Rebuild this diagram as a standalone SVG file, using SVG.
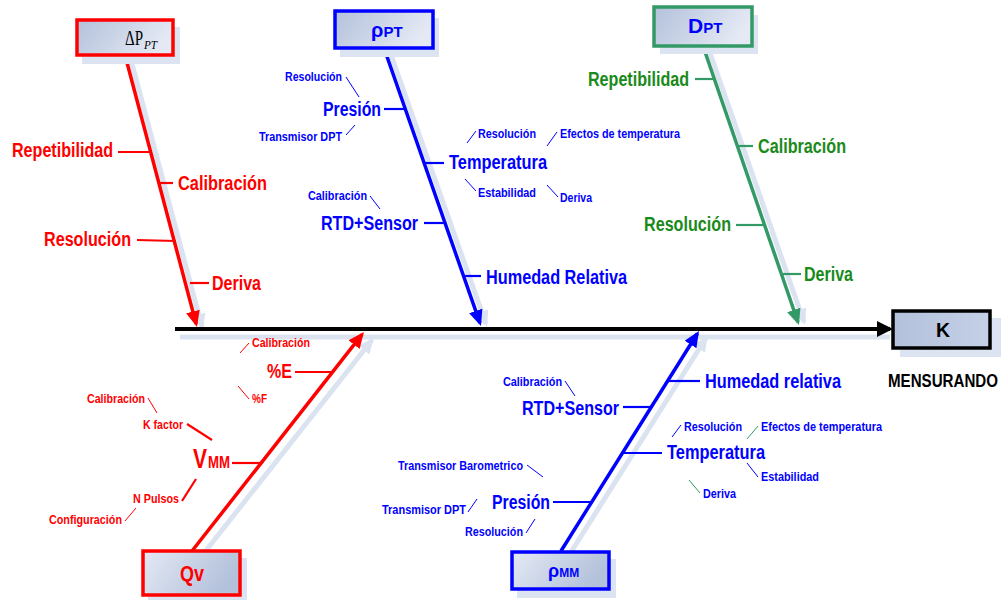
<svg xmlns="http://www.w3.org/2000/svg" width="1007" height="601" viewBox="0 0 1007 601">
<defs>
<linearGradient id="gTop" x1="0" y1="0" x2="1" y2="0.3"><stop offset="0" stop-color="#b3c1db"/><stop offset="1" stop-color="#e4e9f4"/></linearGradient>
<linearGradient id="gBot" x1="0" y1="0" x2="1" y2="0.3"><stop offset="0" stop-color="#e4e9f4"/><stop offset="1" stop-color="#b3c1db"/></linearGradient>
<linearGradient id="gK" x1="0" y1="0" x2="1" y2="0"><stop offset="0" stop-color="#b3c1db"/><stop offset="1" stop-color="#c4d0e6"/></linearGradient>
<marker id="aR" viewBox="0 0 16 14" refX="13" refY="7" markerWidth="16" markerHeight="14" markerUnits="userSpaceOnUse" orient="auto"><path d="M0,0 L16,7 L0,14 z" fill="#ff0000"/></marker>
<marker id="aB" viewBox="0 0 16 14" refX="13" refY="7" markerWidth="16" markerHeight="14" markerUnits="userSpaceOnUse" orient="auto"><path d="M0,0 L16,7 L0,14 z" fill="#0000ff"/></marker>
<marker id="aG" viewBox="0 0 16 14" refX="13" refY="7" markerWidth="16" markerHeight="14" markerUnits="userSpaceOnUse" orient="auto"><path d="M0,0 L16,7 L0,14 z" fill="#339966"/></marker>
<marker id="aK" viewBox="0 0 16 16" refX="13" refY="8" markerWidth="16" markerHeight="16" markerUnits="userSpaceOnUse" orient="auto"><path d="M0,0 L16,8 L0,16 z" fill="#000000"/></marker>
<marker id="aS" viewBox="0 0 16 14" refX="13" refY="7" markerWidth="16" markerHeight="14" markerUnits="userSpaceOnUse" orient="auto"><path d="M0,0 L16,7 L0,14 z" fill="#dbe3f1"/></marker>
<style>
text{font-family:"Liberation Sans Narrow","Liberation Sans",Arial,sans-serif;font-weight:bold}
.L{font-size:20px}
.S{font-size:13px}
.red{fill:#ff0000}
.blue{fill:#0000ff}
.green{fill:#1a8a1a}
.shadow{fill:#dde4f1;stroke:none}
.sh{stroke:#dbe3f1;stroke-width:5;fill:none}
.bone{stroke-width:3.5;fill:none}
.br{stroke-width:2.2;fill:none}
.tk{stroke-width:1;fill:none}
.rs{stroke:#ff0000}
.bs{stroke:#0000ff}
.gs{stroke:#339966}
</style>
</defs>
<rect width="1007" height="601" fill="#ffffff"/>

<g id="connectors">
<line class="sh" x1="180" y1="337" x2="890" y2="337"/>
<line class="sh" x1="131" y1="60" x2="202" y2="327" marker-end="url(#aS)"/>
<line class="sh" x1="390" y1="52" x2="486" y2="324" marker-end="url(#aS)"/>
<line class="sh" x1="709" y1="50" x2="804" y2="322" marker-end="url(#aS)"/>
<line class="sh" x1="204" y1="553" x2="372" y2="340" marker-end="url(#aS)"/>
<line class="sh" x1="571" y1="552" x2="706" y2="338" marker-end="url(#aS)"/>
<line x1="175" y1="329" x2="890" y2="329" stroke="#000" stroke-width="4" marker-end="url(#aK)"/>
<line class="bone rs" x1="125" y1="55" x2="196.2" y2="324.1" marker-end="url(#aR)"/>
<line class="bone bs" x1="384" y1="48" x2="480" y2="323.2" marker-end="url(#aB)"/>
<line class="bone gs" x1="703" y1="46" x2="798" y2="322.2" marker-end="url(#aG)"/>
<line class="bone rs" x1="192" y1="551" x2="362.1" y2="334.4" marker-end="url(#aR)"/>
<line class="bone bs" x1="561" y1="551" x2="697.4" y2="333.5" marker-end="url(#aB)"/>
<line class="br rs" x1="118" y1="152" x2="151" y2="152"/>
<line class="br rs" x1="160" y1="183" x2="173" y2="183"/>
<line class="br rs" x1="137" y1="240" x2="176" y2="241"/>
<line class="br rs" x1="190" y1="283" x2="209" y2="283"/>
<line class="br bs" x1="384" y1="109" x2="406" y2="109"/>
<line class="br bs" x1="424" y1="163" x2="444" y2="163"/>
<line class="br bs" x1="424" y1="223" x2="445" y2="223"/>
<line class="br bs" x1="463" y1="276" x2="481" y2="276"/>
<line class="tk bs" x1="346" y1="77" x2="359" y2="97"/>
<line class="tk bs" x1="346" y1="135" x2="355" y2="125"/>
<line class="tk bs" x1="467" y1="143" x2="476" y2="131"/>
<line class="tk bs" x1="547" y1="146" x2="557" y2="132"/>
<line class="tk bs" x1="465" y1="179" x2="476" y2="191"/>
<line class="tk bs" x1="547" y1="185" x2="558" y2="197"/>
<line class="tk bs" x1="370" y1="196" x2="380" y2="209"/>
<line class="br gs" x1="695" y1="79" x2="714" y2="79"/>
<line class="br gs" x1="738" y1="146" x2="753" y2="146"/>
<line class="br gs" x1="736" y1="225" x2="765" y2="225"/>
<line class="br gs" x1="782" y1="274" x2="801" y2="274"/>
<line class="br rs" x1="295" y1="372" x2="333" y2="372"/>
<line class="br rs" x1="232" y1="463" x2="261" y2="463"/>
<line class="tk rs" x1="240" y1="353" x2="249" y2="343"/>
<line class="tk rs" x1="238" y1="386" x2="249" y2="399"/>
<line class="br rs" x1="187" y1="424" x2="212" y2="440"/>
<line class="tk rs" x1="148" y1="398" x2="157" y2="413"/>
<line class="br rs" x1="182" y1="501" x2="196" y2="479" stroke-width="1.5"/>
<line class="tk rs" x1="125" y1="521" x2="136" y2="508"/>
<line class="br bs" x1="668" y1="381" x2="700" y2="381"/>
<line class="br bs" x1="623" y1="407" x2="651" y2="407"/>
<line class="br bs" x1="623" y1="453" x2="662" y2="453"/>
<line class="br bs" x1="553" y1="502" x2="591" y2="502"/>
<line class="tk bs" x1="565" y1="381" x2="575" y2="396"/>
<line class="tk bs" x1="672" y1="437" x2="681" y2="425"/>
<line class="tk gs" x1="747" y1="439" x2="758" y2="426"/>
<line class="tk bs" x1="747" y1="463" x2="758" y2="477"/>
<line class="tk gs" x1="689" y1="480" x2="700" y2="493"/>
<line class="tk bs" x1="527" y1="465" x2="543" y2="477"/>
<line class="tk bs" x1="468" y1="512" x2="477" y2="499"/>
<line class="tk bs" x1="526" y1="533" x2="535" y2="519"/>
</g>

<g id="n-dp">
<rect class="shadow" x="82" y="27" width="98" height="37"/>
<rect x="77" y="20" width="96" height="35" fill="url(#gTop)" stroke="#ff0000" stroke-width="3.5"/>
<text x="125" y="45" style="font-family:'Liberation Serif',serif;font-weight:normal;font-size:22px;fill:#000"><tspan textLength="18" lengthAdjust="spacingAndGlyphs">ΔP</tspan><tspan x="144" y="49" style="font-size:13px;font-style:italic" textLength="13" lengthAdjust="spacingAndGlyphs">PT</tspan></text>
</g>
<g id="n-rhopt">
<rect class="shadow" x="340" y="18" width="99" height="39"/>
<rect x="335" y="11" width="98" height="37" fill="url(#gTop)" stroke="#0000ff" stroke-width="3.5"/>
<text x="371" y="37" class="blue" style="font-size:20px">ρ<tspan style="font-size:15px">PT</tspan></text>
</g>
<g id="n-dpt">
<rect class="shadow" x="660" y="15" width="98" height="39"/>
<rect x="654" y="7" width="98" height="39" fill="url(#gTop)" stroke="#339966" stroke-width="3.5"/>
<text x="688" y="33" class="blue" style="font-size:21px">D<tspan style="font-size:15px">PT</tspan></text>
</g>
<g id="n-qv">
<rect class="shadow" x="148" y="558" width="99" height="42"/>
<rect x="143" y="551" width="97" height="44" fill="url(#gBot)" stroke="#ff0000" stroke-width="3.5"/>
<text x="180" y="581" class="red" style="font-size:22px" textLength="24" lengthAdjust="spacingAndGlyphs">Qv</text>
</g>
<g id="n-rhomm">
<rect class="shadow" x="517" y="559" width="99" height="39"/>
<rect x="512" y="552" width="97" height="37" fill="url(#gBot)" stroke="#0000ff" stroke-width="3.5"/>
<text x="548" y="577" class="blue" style="font-size:18px">ρ<tspan style="font-size:12px">MM</tspan></text>
</g>
<g id="n-k">
<rect class="shadow" x="900" y="318" width="101" height="39"/>
<rect x="893" y="311" width="97" height="37" fill="url(#gK)" stroke="#000" stroke-width="3.5"/>
<text x="943" y="337" text-anchor="middle" style="font-size:21px;fill:#000" textLength="14" lengthAdjust="spacingAndGlyphs">K</text>
<text x="888" y="387" style="font-size:19px;fill:#000" textLength="110" lengthAdjust="spacingAndGlyphs">MENSURANDO</text>
</g>

<g id="labels-dp" class="red">
<text class="L" x="12" y="157" textLength="101" lengthAdjust="spacingAndGlyphs">Repetibilidad</text>
<text class="L" x="178" y="190" textLength="89" lengthAdjust="spacingAndGlyphs">Calibración</text>
<text class="L" x="44" y="246" textLength="87" lengthAdjust="spacingAndGlyphs">Resolución</text>
<text class="L" x="212" y="290" textLength="49" lengthAdjust="spacingAndGlyphs">Deriva</text>
</g>
<g id="labels-rhopt" class="blue">
<text class="L" x="323" y="116" textLength="58" lengthAdjust="spacingAndGlyphs">Presión</text>
<text class="L" x="449" y="169" textLength="98" lengthAdjust="spacingAndGlyphs">Temperatura</text>
<text class="L" x="321" y="230" textLength="97" lengthAdjust="spacingAndGlyphs">RTD+Sensor</text>
<text class="L" x="486" y="284" textLength="141" lengthAdjust="spacingAndGlyphs">Humedad Relativa</text>
<text class="S" x="285" y="81" textLength="57" lengthAdjust="spacingAndGlyphs">Resolución</text>
<text class="S" x="259" y="141" textLength="83" lengthAdjust="spacingAndGlyphs">Transmisor DPT</text>
<text class="S" x="478" y="138" textLength="58" lengthAdjust="spacingAndGlyphs">Resolución</text>
<text class="S" x="560" y="138" textLength="120" lengthAdjust="spacingAndGlyphs">Efectos de temperatura</text>
<text class="S" x="478" y="197" textLength="58" lengthAdjust="spacingAndGlyphs">Estabilidad</text>
<text class="S" x="560" y="202" textLength="32" lengthAdjust="spacingAndGlyphs">Deriva</text>
<text class="S" x="308" y="200" textLength="59" lengthAdjust="spacingAndGlyphs">Calibración</text>
</g>
<g id="labels-dpt" class="green">
<text class="L" x="588" y="86" textLength="101" lengthAdjust="spacingAndGlyphs">Repetibilidad</text>
<text class="L" x="758" y="153" textLength="88" lengthAdjust="spacingAndGlyphs">Calibración</text>
<text class="L" x="644" y="231" textLength="87" lengthAdjust="spacingAndGlyphs">Resolución</text>
<text class="L" x="804" y="281" textLength="49" lengthAdjust="spacingAndGlyphs">Deriva</text>
</g>
<g id="labels-qv" class="red">
<text class="L" x="267" y="378" textLength="25" lengthAdjust="spacingAndGlyphs">%E</text>
<text class="S" x="252" y="347" textLength="58" lengthAdjust="spacingAndGlyphs">Calibración</text>
<text class="S" x="252" y="403" textLength="15" lengthAdjust="spacingAndGlyphs">%F</text>
<text x="193" y="468" style="font-size:28px"><tspan textLength="14" lengthAdjust="spacingAndGlyphs">V</tspan><tspan x="208" style="font-size:16px" textLength="22" lengthAdjust="spacingAndGlyphs">MM</tspan></text>
<text class="S" x="143" y="429" textLength="40" lengthAdjust="spacingAndGlyphs">K factor</text>
<text class="S" x="87" y="403" textLength="58" lengthAdjust="spacingAndGlyphs">Calibración</text>
<text class="S" x="133" y="503" textLength="46" lengthAdjust="spacingAndGlyphs">N Pulsos</text>
<text class="S" x="49" y="524" textLength="73" lengthAdjust="spacingAndGlyphs">Configuración</text>
</g>
<g id="labels-rhomm" class="blue">
<text class="L" x="705" y="388" textLength="136" lengthAdjust="spacingAndGlyphs">Humedad relativa</text>
<text class="L" x="522" y="415" textLength="97" lengthAdjust="spacingAndGlyphs">RTD+Sensor</text>
<text class="L" x="667" y="459" textLength="98" lengthAdjust="spacingAndGlyphs">Temperatura</text>
<text class="L" x="492" y="509" textLength="58" lengthAdjust="spacingAndGlyphs">Presión</text>
<text class="S" x="503" y="386" textLength="59" lengthAdjust="spacingAndGlyphs">Calibración</text>
<text class="S" x="684" y="431" textLength="58" lengthAdjust="spacingAndGlyphs">Resolución</text>
<text class="S" x="761" y="431" textLength="121" lengthAdjust="spacingAndGlyphs">Efectos de temperatura</text>
<text class="S" x="761" y="481" textLength="58" lengthAdjust="spacingAndGlyphs">Estabilidad</text>
<text class="S" x="703" y="498" textLength="33" lengthAdjust="spacingAndGlyphs">Deriva</text>
<text class="S" x="398" y="470" textLength="125" lengthAdjust="spacingAndGlyphs">Transmisor Barometrico</text>
<text class="S" x="382" y="514" textLength="84" lengthAdjust="spacingAndGlyphs">Transmisor DPT</text>
<text class="S" x="465" y="536" textLength="58" lengthAdjust="spacingAndGlyphs">Resolución</text>
</g>
</svg>
